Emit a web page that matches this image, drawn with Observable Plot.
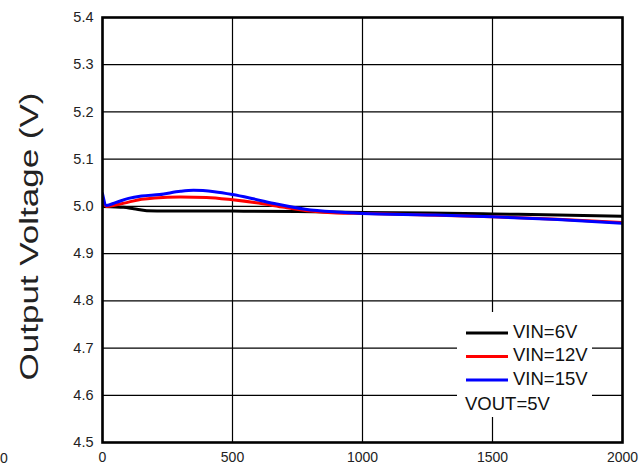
<!DOCTYPE html>
<html>
<head>
<meta charset="utf-8">
<script src="https://cdn.jsdelivr.net/npm/d3@7"></script>
<script src="https://cdn.jsdelivr.net/npm/@observablehq/plot@0.6"></script>
<style>
  html, body { margin: 0; padding: 0; background: white; }
  #chart svg { display: block; }
</style>
</head>
<body>
<div id="chart"></div>
<script>
// Series names
const seriesNames = ["VIN=6V", "VIN=12V", "VIN=15V"];
const seriesColors = ["black", "red", "blue"];
const noteText = "VOUT=5V";
const yLabel = "Output Voltage (V)";

// Axis ticks
const xTicks = [0, 500, 1000, 1500, 2000];
const yTicks = [4.5, 4.6, 4.7, 4.8, 4.9, 5.0, 5.1, 5.2, 5.3, 5.4];

// VIN=6V
const x6 = [0, 30, 80, 120, 170, 250, 500, 750, 1000, 1250, 1500, 1750, 2000];
const v6 = [5.000, 4.999, 4.998, 4.995, 4.991, 4.990, 4.990, 4.989, 4.987, 4.986, 4.984, 4.982, 4.979];

// VIN=12V
const x12 = [0, 15, 50, 100, 150, 200, 300, 400, 500, 600, 700, 800, 900, 1000, 1250, 1500, 1750, 2000];
const v12 = [5.010, 5.000, 5.003, 5.009, 5.015, 5.018, 5.020, 5.019, 5.014, 5.007, 4.998, 4.990, 4.986, 4.985, 4.982, 4.978, 4.973, 4.966];

// VIN=15V
const x15 = [0, 15, 50, 100, 150, 220, 300, 350, 430, 500, 580, 670, 780, 900, 1000, 1250, 1500, 1750, 2000];
const v15 = [5.027, 5.002, 5.008, 5.017, 5.022, 5.025, 5.032, 5.034, 5.031, 5.025, 5.016, 5.005, 4.994, 4.988, 4.985, 4.982, 4.978, 4.972, 4.964];

const data = [
  ...x6.map((x, i) => ({x, y: v6[i], s: seriesNames[0]})),
  ...x12.map((x, i) => ({x, y: v12[i], s: seriesNames[1]})),
  ...x15.map((x, i) => ({x, y: v15[i], s: seriesNames[2]}))
];

const W = 643, H = 466;
const mL = 102, mR = 21, mT = 17, mB = 24;

const svg = Plot.plot({
  width: W, height: H,
  marginLeft: mL, marginRight: mR, marginTop: mT, marginBottom: mB,
  style: {fontFamily: "'Liberation Sans', Arial, sans-serif", background: "white", color: "black"},
  x: {domain: [0, 2000], label: null},
  y: {domain: [4.5, 5.4], label: null},
  color: {domain: seriesNames, range: seriesColors},
  marks: [
    Plot.gridX(xTicks, {stroke: "black", strokeOpacity: 1, strokeWidth: 1.2}),
    Plot.gridY(yTicks, {stroke: "black", strokeOpacity: 1, strokeWidth: 1.2}),
    Plot.line(data, {x: "x", y: "y", z: "s", stroke: "s", curve: "monotone-x", strokeWidth: 3, clip: true}),
    Plot.frame({stroke: "black", strokeWidth: 2.6}),
    Plot.axisX(xTicks, {tickSize: 0, tickPadding: 10, fontSize: 14, fill: "#222", tickFormat: d3.format("d"), label: null}),
    Plot.axisY(yTicks, {tickSize: 0, tickPadding: 9, fontSize: 14.5, fill: "#222", tickFormat: d3.format(".1f"), label: null})
  ]
});

document.getElementById("chart").appendChild(svg);

const s = d3.select(svg);
// Y axis title
s.append("text")
  .attr("transform", `translate(31,${(mT + H - mB) / 2 + 7}) rotate(-90)`)
  .attr("text-anchor", "middle")
  .attr("dominant-baseline", "middle")
  .attr("font-size", 25)
  .attr("textLength", 288)
  .attr("lengthAdjust", "spacingAndGlyphs")
  .attr("fill", "#222")
  .text(yLabel);

// stray label at left edge
s.append("text")
  .attr("x", 0).attr("y", 463)
  .attr("text-anchor", "start")
  .attr("font-size", 14).attr("fill", "#222")
  .text("0");

// Legend
const lg = s.append("g").attr("text-anchor", "start");
lg.append("rect").attr("x", 457).attr("y", 312).attr("width", 135).attr("height", 105).attr("fill", "white");
seriesNames.forEach((n, i) => {
  const y = 333 + i * 23.5;
  lg.append("line").attr("x1", 466).attr("x2", 508).attr("y1", y).attr("y2", y)
    .attr("stroke", seriesColors[i]).attr("stroke-width", 3);
  lg.append("text").attr("x", 513).attr("y", y).attr("dominant-baseline", "middle")
    .attr("text-anchor", "start")
    .attr("font-size", 18.5).attr("fill", "#111").text(n);
});
lg.append("text").attr("x", 465).attr("y", 405).attr("dominant-baseline", "middle")
  .attr("text-anchor", "start")
  .attr("font-size", 18.5).attr("fill", "#111").text(noteText);
</script>
</body>
</html>
